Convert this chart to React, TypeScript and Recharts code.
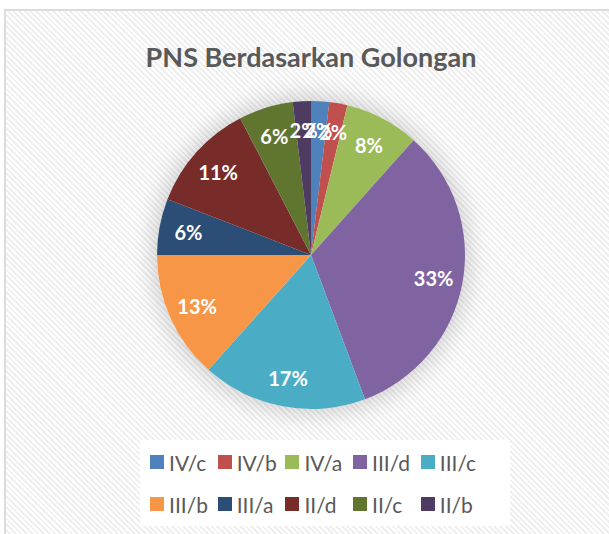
import { PieChart, Pie, Cell, Legend } from "recharts";

const categories = ["IV/c", "IV/b", "IV/a", "III/d", "III/c", "III/b", "III/a", "II/d", "II/c", "II/b"];
const shares = [1.9, 1.9, 7.8, 32.7, 17.3, 13.4, 5.9, 11.5, 5.7, 1.9];
const colors = ["#4F81BD", "#C0504D", "#9BBB59", "#8064A2", "#4BACC6", "#F79646", "#2C4D75", "#772C2A", "#5F7530", "#4D3B62"];

const data = categories.map((name, i) => ({ name, value: shares[i] }));

const RAD = Math.PI / 180;
const FONT = "Lato, 'Open Sans', sans-serif";

// pie centre on the page; the chart has a 5px default margin
const CX = 311;
const CY = 255;
const R = 154;
const MARGIN = 5;

function renderLabel(props: any) {
  const { cx, cy, midAngle, outerRadius, percent } = props;
  const r = outerRadius * 0.81;
  const x = cx + r * Math.cos(-midAngle * RAD);
  const y = cy + r * Math.sin(-midAngle * RAD);
  return (
    <text
      x={x}
      y={y}
      fill="#ffffff"
      textAnchor="middle"
      dominantBaseline="central"
      fontFamily={FONT}
      fontWeight={700}
      fontSize={20}
    >
      {`${Math.round(percent * 100)}%`}
    </text>
  );
}

function LegendBox() {
  return (
    <div
      style={{
        background: "#ffffff",
        width: 360,
        padding: "8px 0 8px 10px",
        display: "grid",
        gridTemplateColumns: "repeat(5, 67.7px)",
        rowGap: 14,
      }}
    >
      {data.map((d, i) => (
        <div key={d.name} style={{ display: "flex", alignItems: "center", height: 28, whiteSpace: "nowrap" }}>
          <span style={{ width: 14, height: 14, background: colors[i], marginRight: 5, flex: "none" }} />
          <span style={{ fontFamily: FONT, fontSize: 21, color: "#595959" }}>{d.name}</span>
        </div>
      ))}
    </div>
  );
}

export default function App() {
  return (
    <div style={{ position: "absolute", left: 0, top: 0, width: 609, height: 534, overflow: "hidden", background: "#fff" }}>
      <div
        style={{
          position: "absolute",
          left: 4,
          top: 9,
          width: 620,
          height: 540,
          border: "2px solid #dcdcdc",
          background: "repeating-linear-gradient(45deg, #ffffff 0px, #ffffff 2px, #efefef 2px, #efefef 4px)",
        }}
      />
      <div
        style={{
          position: "absolute",
          left: CX - R,
          top: CY - R,
          width: R * 2,
          height: R * 2,
          borderRadius: "50%",
          boxShadow: "0 0 22px 6px rgba(0,0,0,0.16)",
        }}
      />
      <div
        style={{
          position: "absolute",
          left: 0,
          width: 622,
          top: 41,
          textAlign: "center",
          fontFamily: FONT,
          fontWeight: 700,
          fontSize: 27,
          lineHeight: "32px",
          color: "#595959",
        }}
      >
        PNS Berdasarkan Golongan
      </div>
      <div style={{ position: "absolute", left: 0, top: 0 }}>
        <PieChart width={609} height={534}>
          <Pie
            data={data}
            dataKey="value"
            nameKey="name"
            cx={CX - MARGIN}
            cy={CY - MARGIN}
            outerRadius={R}
            startAngle={90}
            endAngle={-270}
            stroke="none"
            label={renderLabel}
            labelLine={false}
            isAnimationActive={false}
          >
            {data.map((d, i) => (
              <Cell key={d.name} fill={colors[i]} />
            ))}
          </Pie>
          <Legend
            content={() => <LegendBox />}
            wrapperStyle={{ position: "absolute", left: 140, top: 440, width: 370 }}
          />
        </PieChart>
      </div>
    </div>
  );
}
